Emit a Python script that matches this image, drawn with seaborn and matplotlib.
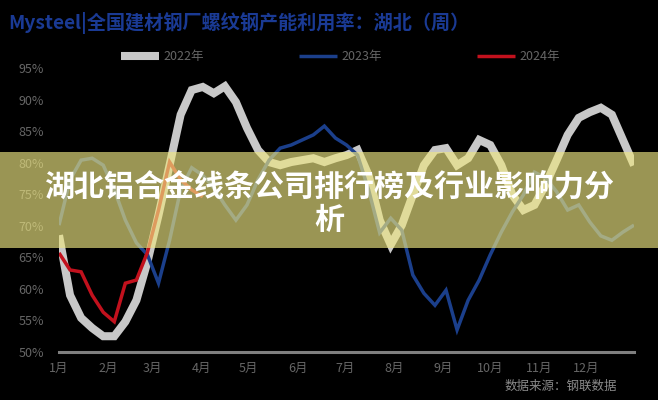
import pandas as pd
import matplotlib
matplotlib.use("Agg")
import matplotlib.pyplot as plt
from matplotlib.patches import Rectangle
import seaborn as sns

# weekly utilisation rate, Hubei (%)
weeks = pd.date_range("2023-01-01", periods=53, freq="7D")
util_2022 = [68.5, 59.0, 55.4, 53.8, 52.5, 52.5, 54.8, 58.2, 64.3, 71.7,
             79.6, 87.6, 91.5, 92.0, 91.0, 92.1, 89.6, 85.5, 82.0, 80.1,
             79.6, 80.1, 80.4, 80.7, 80.1, 80.7, 81.2, 82.0, 78.0, 70.9,
             67.0, 70.1, 74.9, 79.6, 82.0, 82.3, 79.6, 80.7, 83.6, 82.8,
             79.6, 74.9, 72.5, 73.3, 76.5, 80.4, 84.4, 87.1, 88.0, 88.7,
             87.6, 83.6, 79.6]
util_2023 = [70.1, 77.3, 80.4, 80.7, 79.6, 75.7, 70.9, 67.3, 65.4, 60.9,
             67.7, 75.7, 79.2, 78.0, 76.0, 73.3, 70.9, 73.3, 77.3, 80.4,
             82.3, 82.8, 83.6, 84.4, 85.8, 83.9, 82.8, 81.2, 75.7, 68.9,
             71.2, 69.3, 62.2, 59.3, 57.4, 59.8, 53.5, 58.2, 61.4, 65.4,
             69.0, 72.2, 74.9, 78.5, 77.6, 75.4, 72.5, 73.3, 70.6, 68.4,
             67.7, 69.0, 70.1]
util_2024 = [65.7, 63.0, 62.7, 59.0, 56.3, 54.8, 60.9, 61.4, 65.8, 72.5,
             80.1, 77.3, 75.7, 74.6]

series_names = ["2022年", "2023年", "2024年"]
series_colors = ["#c8c8c8", "#1b3f8b", "#c2111d"]
series_widths = [5.8, 2.5, 2.5]

month_labels = [f"{m}月" for m in range(1, 13)]
y_ticks = [95, 90, 85, 80, 75, 70, 65, 60, 55, 50]

title = "Mysteel|全国建材钢厂螺纹钢产能利用率：湖北（周）"
banner = "湖北铝合金线条公司排行榜及行业影响力分\n析"
source = "数据来源：钢联数据"

df = pd.concat([
    pd.DataFrame({"week": weeks[:len(v)], "rate": v, "year": name})
    for name, v in zip(series_names, [util_2022, util_2023, util_2024])
])

sns.set_theme(style="dark")
plt.rcParams["font.family"] = ["Noto Sans CJK SC", "DejaVu Sans"]

fig = plt.figure(figsize=(6.58, 4.0), dpi=100, facecolor="black")
ax = fig.add_axes([59 / 658, 48 / 400, 575 / 658, 284 / 400])
ax.set_facecolor("black")

for name, col, lw in zip(series_names, series_colors, series_widths):
    sns.lineplot(data=df[df["year"] == name], x="week", y="rate", ax=ax,
                 color=col, linewidth=lw, label=name,
                 solid_capstyle="butt", solid_joinstyle="miter")

ax.set_xlim(pd.Timestamp("2023-01-01"), pd.Timestamp("2023-12-31"))
ax.set_ylim(50, 95)
ax.set_xticks(pd.date_range("2023-01-01", periods=12, freq="MS"))
ax.set_xticklabels(month_labels)
ax.set_yticks(y_ticks)
ax.set_yticklabels([f"{v}%" for v in y_ticks])
ax.set_xlabel("")
ax.set_ylabel("")
ax.grid(False)

for s in ["top", "right", "left"]:
    ax.spines[s].set_visible(False)
ax.spines["bottom"].set_color("#7f7f7f")
ax.spines["bottom"].set_linewidth(2.2)
ax.tick_params(axis="x", colors="#7f7f7f", length=4, width=2, direction="out",
               labelcolor="#666666", labelsize=9, pad=3)
ax.tick_params(axis="y", length=0, labelcolor="#666666", labelsize=9, pad=11)

leg = ax.legend(loc="center", bbox_to_anchor=(0.49, 1.04), ncol=3,
                frameon=False, fontsize=9, handlelength=3.0,
                columnspacing=7.6, handletextpad=0.4)
for t in leg.get_texts():
    t.set_color("#666666")

fig.text(8 / 658, 1 - 23 / 400, title, color="#1a3a94", fontsize=13.8,
         fontweight="bold", va="center", ha="left")
fig.text(505 / 658, 1 - 386 / 400, source, color="#8a8a8a", fontsize=9,
         va="center", ha="left")

# translucent banner across the middle
fig.patches.append(Rectangle((0, 152 / 400), 1, 96 / 400, transform=fig.transFigure,
                             facecolor="#eee682", alpha=0.65, edgecolor="none",
                             zorder=10))
fig.text(0.5, 1 - 203 / 400, banner, color="white", fontsize=21.6,
         fontweight="bold", ha="center", va="center", linespacing=1.15,
         zorder=11)

fig.savefig("out.png", dpi=100, facecolor="black")
